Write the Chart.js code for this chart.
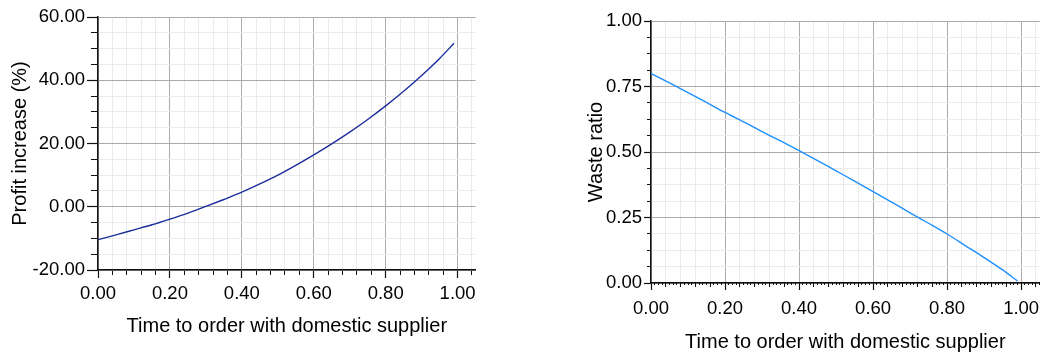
<!DOCTYPE html>
<html>
<head>
<meta charset="utf-8">
<script src="https://cdn.jsdelivr.net/npm/chart.js@4.4.1/dist/chart.umd.min.js"></script>
<style>
  html, body { margin: 0; padding: 0; background: #fff; }
  body { width: 1044px; height: 358px; position: relative; overflow: hidden; }
  canvas { position: absolute; top: 0; }
  #profit { left: 0; }
  #waste { left: 560px; }
</style>
</head>
<body>
<canvas id="profit" width="477" height="358"></canvas>
<canvas id="waste" width="484" height="358"></canvas>
<script>
// Time to order with the domestic supplier (shared x values)
const orderTime = [0.00, 0.05, 0.10, 0.15, 0.20, 0.25, 0.30, 0.35, 0.40, 0.45, 0.50,
                   0.55, 0.60, 0.65, 0.70, 0.75, 0.80, 0.85, 0.90, 0.95, 0.99];

// Profit increase (%)
const profitIncrease = [-10.4, -8.9, -7.3, -5.7, -3.9, -2.0, 0.1, 2.3, 4.6, 7.2, 10.0,
                        13.1, 16.4, 19.9, 23.6, 27.6, 31.9, 36.5, 41.5, 46.9, 51.7];

// Waste ratio
const wasteRatio = [0.800, 0.764, 0.727, 0.689, 0.651, 0.615, 0.578, 0.542, 0.505, 0.467, 0.428,
                    0.389, 0.349, 0.309, 0.268, 0.228, 0.187, 0.142, 0.097, 0.050, 0.008];

// Axis ranges and tick labelling
const xRange = { min: 0, max: 1.05, minor: 0.04, majorEvery: 5 };
const profitRange = { min: -20, max: 60, minor: 5, majorEvery: 4 };
const wasteRange = { min: 0, max: 1, minor: 0.0625, majorEvery: 4 };

const xTitle = 'Time to order with domestic supplier';
const profitTitle = 'Profit increase (%)';
const wasteTitle = 'Waste ratio';

const FONT = '"Liberation Sans", Arial, Helvetica, sans-serif';
const MAJOR_GRID = '#ababab';
const MINOR_GRID = '#ebebeb';
const AXIS = '#111';

function isMajor(value, r) {
  return Math.round((value - r.min) / r.minor) % r.majorEvery === 0;
}

// main axis: labels, grid, long tick marks at the labelled values
function mainAxis(r, o) {
  return {
    type: 'linear',
    position: o.position,
    weight: 1,
    min: r.min, max: r.max,
    afterFit(scale) {
      if (o.position === 'left') scale.width = o.size; else scale.height = o.size;
    },
    border: { display: true, color: AXIS, width: 1.5 },
    grid: {
      color: c => (c.tick && isMajor(c.tick.value, r)) ? MAJOR_GRID : MINOR_GRID,
      lineWidth: 1,
      drawTicks: true,
      tickLength: o.majorTick,
      tickWidth: 1.2,
      tickColor: c => (c.tick && isMajor(c.tick.value, r)) ? AXIS : 'rgba(0,0,0,0)'
    },
    ticks: {
      stepSize: r.minor,
      includeBounds: false,
      autoSkip: false,
      maxRotation: 0, minRotation: 0,
      padding: o.tickPad,
      color: '#000',
      font: { family: FONT, size: 18.5 },
      callback: v => isMajor(v, r) ? v.toFixed(2) : ''
    },
    title: {
      display: true,
      text: o.title,
      color: '#000',
      font: { family: FONT, size: 20 },
      padding: o.titlePad
    }
  };
}

// companion axis: only the short tick marks, takes no room
function tickAxis(r, position, step, len) {
  return {
    type: 'linear',
    position: position,
    weight: 0,
    min: r.min, max: r.max,
    afterFit(scale) {
      if (position === 'left') scale.width = 0; else scale.height = 0;
    },
    border: { display: false },
    grid: {
      drawOnChartArea: false,
      drawTicks: true,
      tickLength: len,
      tickWidth: 1,
      tickColor: AXIS
    },
    ticks: { display: false, stepSize: step, includeBounds: false, autoSkip: false }
  };
}

function points(ys) {
  return orderTime.map((x, i) => ({ x: x, y: ys[i] }));
}

function makeChart(id, ys, color, yRange, yTitle, lay) {
  const scales = {
    x: mainAxis(xRange, { position: 'bottom', size: lay.xSize, majorTick: lay.xMajor,
                          tickPad: lay.xPad, title: xTitle,
                          titlePad: { top: 0, bottom: lay.xTitlePad } }),
    xt: tickAxis(xRange, 'bottom', xRange.minor, lay.xMinor),
    y: mainAxis(yRange, { position: 'left', size: lay.ySize, majorTick: lay.yMajor,
                          tickPad: lay.yPad, title: yTitle,
                          titlePad: { top: lay.yTitlePad, bottom: 0 } }),
    yt: tickAxis(yRange, 'left', yRange.minor, lay.yMinor)
  };
  if (lay.fineStep) scales.xf = tickAxis(xRange, 'bottom', lay.fineStep, 2);
  return new Chart(document.getElementById(id), {
    type: 'line',
    data: {
      datasets: [{
        data: points(ys),
        xAxisID: 'x', yAxisID: 'y',
        borderColor: color,
        borderWidth: 1.4,
        pointRadius: 0,
        fill: false,
        cubicInterpolationMode: 'monotone'
      }]
    },
    options: {
      responsive: false,
      animation: false,
      devicePixelRatio: 1,
      layout: { padding: { top: lay.top, left: 0, right: 0, bottom: 0 } },
      plugins: { legend: { display: false }, tooltip: { enabled: false } },
      scales: scales
    }
  });
}

makeChart('profit', profitIncrease, '#1b2d9c', profitRange, profitTitle, {
  top: 17, ySize: 98, xSize: 88,
  yMajor: 11, yMinor: 7, yPad: 2, yTitlePad: 8,
  xMajor: 8, xMinor: 5, xPad: 5, xTitlePad: 20
});

makeChart('waste', wasteRatio, '#1e90ff', wasteRange, wasteTitle, {
  top: 21, ySize: 91, xSize: 75,
  yMajor: 7, yMinor: 4, yPad: 2, yTitlePad: 24,
  xMajor: 7, xMinor: 4, xPad: 8, xTitlePad: 4, fineStep: 0.01
});
</script>
</body>
</html>
